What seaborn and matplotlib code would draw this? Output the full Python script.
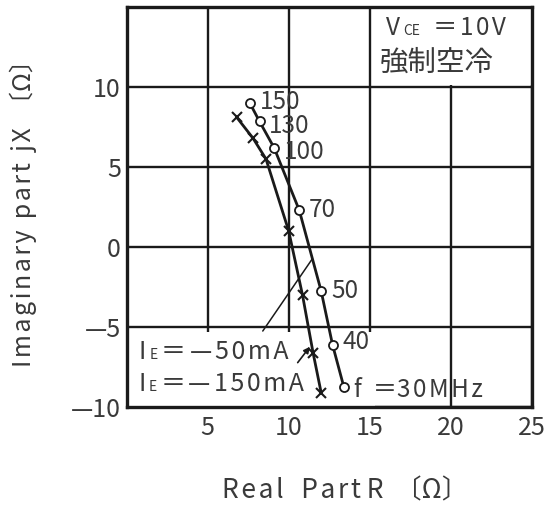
import matplotlib
matplotlib.use("Agg")
import matplotlib.pyplot as plt
from matplotlib.patches import Rectangle
from matplotlib.offsetbox import TextArea, HPacker, AnnotationBbox
import pandas as pd
import seaborn as sns

# Input impedance vs. frequency, two emitter currents
freq_mhz = [150, 130, 100, 70, 50, 40, 30]
r_50ma = [7.6, 8.2, 9.1, 10.65, 12.0, 12.7, 13.4]
x_50ma = [9.0, 7.85, 6.2, 2.3, -2.75, -6.1, -8.75]
r_150ma = [6.8, 7.8, 8.6, 10.0, 10.85, 11.5, 12.0]
x_150ma = [8.1, 6.8, 5.5, 1.0, -3.0, -6.6, -9.1]

x_ticks = [5, 10, 15, 20, 25]
y_ticks = [-10, -5, 0, 5, 10]
y_tick_labels = ["—10", "—5", "0", "5", "10"]
HAIR = "\u200a"


def spaced(s):
    """Open up letter spacing a little with hair spaces."""
    return HAIR.join(s)


freq_labels = ["150", "130", "100", "70", "50", "40", "f  ＝" + spaced("30MHz")]
# small vertical nudges (points) for the frequency labels
freq_label_dy = [1, -3, -3, 0, 0, 2, -2]

sns.set_style("white")
FONT = ["Noto Sans CJK JP", "DejaVu Sans"]
plt.rcParams["font.family"] = FONT
INK = "#1a1a1a"
TXT = "#3a3a3a"

fig = plt.figure(figsize=(5.46, 5.12), dpi=100)
ax = fig.add_axes([0.2317, 0.205, 0.7427, 0.7813])
ax.set_xlim(0, 25)
ax.set_ylim(-10, 15)

# grid drawn by hand so label panels can sit on top of it
for v in x_ticks:
    ax.axvline(v, color=INK, lw=1.7, zorder=1)
for v in y_ticks:
    ax.axhline(v, color=INK, lw=1.7, zorder=1)
ax.add_patch(Rectangle((0, -10), 15.3, 4.72, facecolor="white", edgecolor="none", zorder=1.5))
ax.add_patch(Rectangle((15.2, 10.15), 9.8, 4.85, facecolor="white", edgecolor="none", zorder=1.5))

df50 = pd.DataFrame({"R": r_50ma, "X": x_50ma, "f": freq_mhz})
df150 = pd.DataFrame({"R": r_150ma, "X": x_150ma, "f": freq_mhz})

sns.lineplot(data=df150, x="R", y="X", sort=False, estimator=None, ax=ax,
             color=INK, lw=2.0, marker="x", markersize=6.5, mew=1.5,
             mec=INK, zorder=3)
sns.lineplot(data=df50, x="R", y="X", sort=False, estimator=None, ax=ax,
             color=INK, lw=2.0, marker="o", markersize=6.5, mfc="white",
             mec=INK, mew=1.3, zorder=3)

# frequency labels beside the open circles
for r, x, lab, dy in zip(r_50ma, x_50ma, freq_labels, freq_label_dy):
    ax.annotate(lab, xy=(r, x), xytext=(7, dy), textcoords="offset points",
                ha="left", va="center", fontsize=17.5, color=TXT, zorder=4)


def packed_label(parts, xy, sep=1, align=(0, 0.5)):
    areas = [TextArea(t, textprops=dict(fontsize=s, color=TXT, family=FONT))
             for t, s in parts]
    box = HPacker(children=areas, align="baseline", pad=0, sep=sep)
    ab = AnnotationBbox(box, xy, xycoords="data", frameon=False,
                        box_alignment=align, pad=0, zorder=4)
    ax.add_artist(ab)


packed_label([("V", 17.5), ("CE", 10), ("  ＝", 17.5), (spaced("10V"), 17.5)],
             (16.0, 13.7), sep=2)
packed_label([("強制空冷", 20.5)], (15.6, 11.5))
packed_label([("I", 18), ("E", 10), ("＝", 18), ("—", 18), (spaced("50mA"), 18)],
             (0.75, -6.55), sep=2.5)
packed_label([("I", 18), ("E", 10), ("＝", 18), ("—", 18), (spaced("150mA"), 18)],
             (0.75, -8.55), sep=2.2)


def on_segment(rs, xs, i, t):
    """Point a fraction t of the way from point i to point i+1 of a curve."""
    return (rs[i] + t * (rs[i + 1] - rs[i]), xs[i] + t * (xs[i + 1] - xs[i]))


# leader for the -50 mA curve, ending between the 70 and 50 MHz points
ax.annotate("", xy=on_segment(r_50ma, x_50ma, 3, 0.6), xytext=(8.4, -5.25),
            arrowprops=dict(arrowstyle="-", lw=1.1, color=INK,
                            shrinkA=0, shrinkB=0), zorder=4)
# arrow for the -150 mA curve, pointing just above the 40 MHz cross
ax.annotate("", xy=on_segment(r_150ma, x_150ma, 4, 0.86), xytext=(-10, -13),
            textcoords="offset points",
            arrowprops=dict(arrowstyle="-|>", lw=1.2, color=INK,
                            mutation_scale=9, shrinkA=0, shrinkB=2), zorder=4)

ax.set_xticks(x_ticks)
ax.set_xticklabels([str(v) for v in x_ticks])
ax.set_yticks(y_ticks)
ax.set_yticklabels(y_tick_labels)
ax.tick_params(axis="both", direction="in", length=8, width=1.4, color=INK,
               labelsize=18, labelcolor=TXT)
ax.tick_params(axis="x", pad=6)
ax.tick_params(axis="y", pad=4)
ax.xaxis.set_zorder(5)
ax.yaxis.set_zorder(5)
for sp in ax.spines.values():
    sp.set_linewidth(2.4)
    sp.set_color(INK)
    sp.set_zorder(6)

ax.set_xlabel(spaced("Real") + "   " + spaced("Part") + " R  〔Ω〕",
              fontsize=19, color=TXT, va="center")
ax.xaxis.set_label_coords(0.54, -0.21)
ax.set_ylabel(spaced("Imaginary") + "  " + spaced("part") + "  " + spaced("jX") + "  〔Ω〕",
              fontsize=18, color=TXT, va="center")
ax.yaxis.set_label_coords(-0.255, 0.5)

fig.savefig("out.png", dpi=100)
